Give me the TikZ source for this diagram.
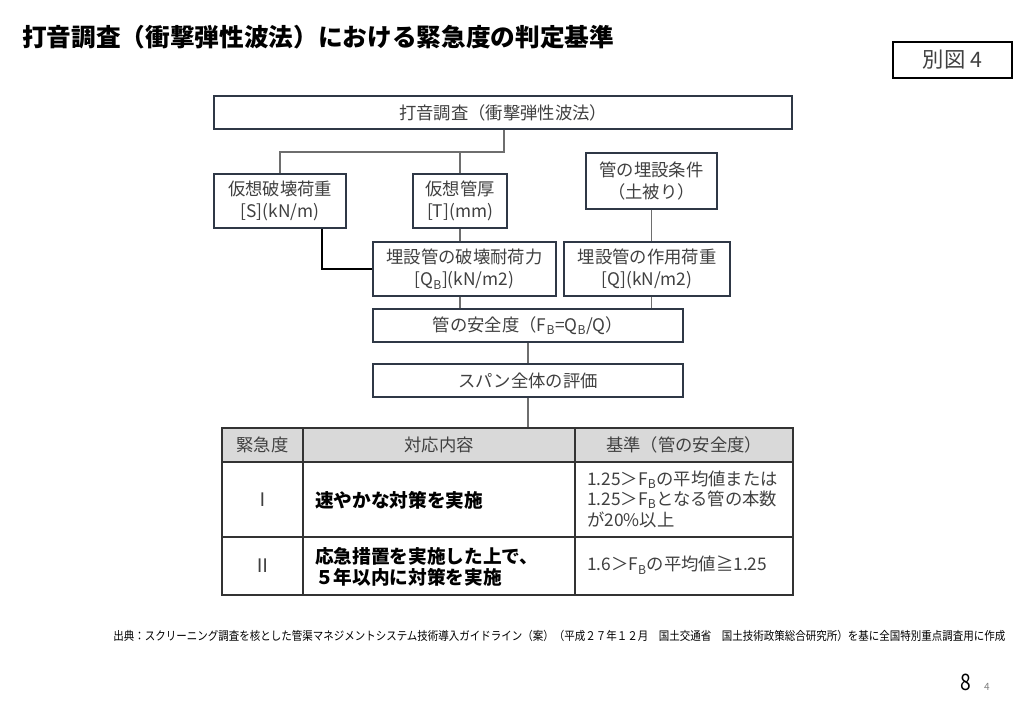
\documentclass[tikz,border=0pt]{standalone}
\usepackage{fontspec}
\setmainfont{Noto Sans CJK JP}
\definecolor{boxline}{RGB}{47,56,70}
\definecolor{boxtext}{RGB}{64,64,64}
\definecolor{linkgray}{RGB}{110,110,110}
\definecolor{headgray}{RGB}{217,217,217}
\definecolor{tabline}{RGB}{51,51,51}

\begin{document}
\begin{tikzpicture}[x=0.75pt,y=-0.75pt,
  box/.style={draw=boxline,line width=1.1pt,fill=white,text=boxtext,align=center,inner sep=0pt,font=\fontsize{13pt}{16.5pt}\selectfont},
  link/.style={draw=linkgray,line width=0.8pt},
  cell/.style={text=boxtext,inner sep=0pt,font=\fontsize{13pt}{15.4pt}\selectfont},
  boldcell/.style={text=black,inner sep=0pt,align=left,font=\fontsize{14pt}{15.8pt}\selectfont\bfseries}]
\useasboundingbox[fill=white] (0,0) rectangle (1024,720);

% title and figure number
\node (title) [anchor=west,inner sep=0pt,font=\fontsize{18.5pt}{20pt}\selectfont\bfseries] at (22,37) {打音調査（衝撃弾性波法）における緊急度の判定基準};
\node (fignum) [draw=black,line width=0.8pt,minimum width=89.25pt,minimum height=27pt,inner sep=0pt,text=boxtext,font=\fontsize{16pt}{18pt}\selectfont] at (952.5,60) {別図 4};

% flow boxes
\node (survey) [box,minimum width=433.5pt,minimum height=24.75pt] at (503,112.5) {打音調査（衝撃弾性波法）};
\node (loadS) [box,minimum width=99pt,minimum height=40.5pt] at (280,201) {仮想破壊荷重\\{}[S](kN/m)};
\node (thickT) [box,minimum width=70.5pt,minimum height=40.5pt] at (460,201) {仮想管厚\\{}[T](mm)};
\node (burial) [box,minimum width=98.25pt,minimum height=42pt] at (651.5,181) {管の埋設条件\\（土被り）};
\node (capQB) [box,minimum width=137.25pt,minimum height=40.5pt] at (464.5,269) {埋設管の破壊耐荷力\\{}[Q\textsubscript{B}](kN/m2)};
\node (loadQ) [box,minimum width=124.5pt,minimum height=40.5pt] at (647,269) {埋設管の作用荷重\\{}[Q](kN/m2)};
\node (safety) [box,minimum width=232.5pt,minimum height=24.75pt] at (528,325.5) {管の安全度（F\textsubscript{B}=Q\textsubscript{B}/Q）};
\node (span) [box,minimum width=232.5pt,minimum height=24.75pt] at (528,380.5) {スパン全体の評価};

% connectors
\coordinate (split) at (504,152);
\coordinate (bend) at (322,269);
\coordinate (tabletop) at (528,428);
\draw [link] (survey.south -| split) -- (split) -| (loadS.north);
\draw [link] (thickT.north) -- (thickT.north |- split);
\draw [link] (thickT.south) -- (thickT.south |- capQB.north);
\draw [draw=black,line width=1.2pt] (loadS.south -| bend) |- (capQB.west);
\draw [link] (burial.south) -- (burial.south |- loadQ.north);
\draw [link] (thickT.south |- capQB.south) -- (thickT.south |- safety.north);
\draw [link] (burial.south |- loadQ.south) -- (burial.south |- safety.north);
\draw [link] (safety.south) -- (span.north);
\draw [link] (span.south) -- (tabletop);

% table
\fill [headgray] (222,428) rectangle (793,462);
\draw [tabline,line width=1.3pt] (222,428) rectangle (793,595);
\draw [tabline,line width=1.1pt] (222,462) -- (793,462) (222,537) -- (793,537)
  (303,428) -- (303,595) (575,428) -- (575,595);
\node (head1) [cell] at (262.5,445) {緊急度};
\node (head2) [cell] at (439,445) {対応内容};
\node (head3) [cell] at (684,445) {基準（管の安全度）};
\node (rank1) [cell,font=\fontsize{14pt}{16pt}\selectfont] at (263,500) {Ⅰ};
\node (act1) [boldcell,anchor=west] at (315,500) {速やかな対策を実施};
\node (crit1) [cell,anchor=west,align=left] at (587,499) {1.25＞F\textsubscript{B}の平均値または\\1.25＞F\textsubscript{B}となる管の本数\\が20\%以上};
\node (rank2) [cell,font=\fontsize{14pt}{16pt}\selectfont] at (263,566) {Ⅱ};
\node (act2) [boldcell,anchor=west] at (315,567) {応急措置を実施した上で、\\５年以内に対策を実施};
\node (crit2) [cell,anchor=west] at (587,565) {1.6＞F\textsubscript{B}の平均値≧1.25};

% source note and page number
\node (source) [anchor=west,inner sep=0pt,text=black,font=\fontsize{9pt}{10pt}\selectfont] at (113,636) {\scalebox{0.875}[1]{出典：スクリーニング調査を核とした管渠マネジメントシステム技術導入ガイドライン（案）（平成２７年１２月　国土交通省　国土技術政策総合研究所）を基に全国特別重点調査用に作成}};
\node (page) [inner sep=0pt,font=\fontsize{17pt}{18pt}\selectfont] at (966,682) {\scalebox{0.85}[1]{8}};
\node (subpage) [inner sep=0pt,text=gray,font=\fontsize{7.5pt}{8pt}\selectfont] at (987,687) {4};
\end{tikzpicture}
\end{document}
